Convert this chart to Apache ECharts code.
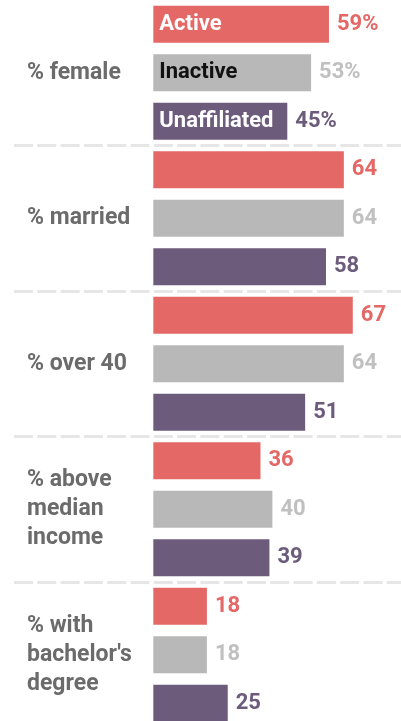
<!DOCTYPE html>
<html>
<head>
<meta charset="utf-8">
<script src="https://cdn.jsdelivr.net/npm/echarts@6/dist/echarts.min.js"></script>
<style>
  html, body { margin: 0; padding: 0; background: #fff; overflow: hidden; }
  #chart { width: 401px; height: 728px; }
</style>
</head>
<body>
<div id="chart"></div>
<script>
var categories = ['% female', '% married', '% over 40', '% above\nmedian\nincome', "% with\nbachelor's\ndegree"];
var groups = ['Active', 'Inactive', 'Unaffiliated'];
var active = [59, 64, 67, 36, 18];
var inactive = [53, 64, 64, 40, 18];
var unaffiliated = [45, 58, 51, 39, 25];

var barColors = ['#e36866', '#b8b8b8', '#6c5b7b'];
var valueColors = ['#e36866', '#c0c0c0', '#6c5b7b'];
var nameColors = ['#ffffff', '#111111', '#ffffff'];
var font = 'Roboto, "Liberation Sans", sans-serif';

// one slot per bar: three bars for each category
var slots = [];
categories.forEach(function (c) { slots.push('', c, ''); });

function spread(values, k) {
    var out = [];
    values.forEach(function (v) {
        for (var j = 0; j < 3; j++) out.push(j === k ? v : '-');
    });
    return out;
}

var all = [active, inactive, unaffiliated];
var series = all.map(function (vals, k) {
    return {
        name: groups[k],
        type: 'bar',
        barWidth: 37,
        barGap: '-100%',
        data: spread(vals, k),
        itemStyle: { color: barColors[k] },
        label: {
            show: true,
            position: 'right',
            distance: 8,
            fontFamily: font,
            fontWeight: 'bold',
            fontSize: 22,
            color: valueColors[k],
            formatter: function (p) { return p.dataIndex < 3 ? p.value + '%' : p.value; }
        }
    };
});

// names written inside the first three bars
var nameData = slots.map(function () { return '-'; });
groups.forEach(function (g, k) {
    nameData[k] = {
        value: all[k][0],
        label: { color: nameColors[k] }
    };
});
series.push({
    name: 'names',
    type: 'bar',
    barWidth: 37,
    barGap: '-100%',
    z: 3,
    silent: true,
    data: nameData,
    itemStyle: { color: 'rgba(0,0,0,0)' },
    label: {
        show: true,
        position: 'insideLeft',
        distance: 6,
        fontFamily: font,
        fontWeight: 'bold',
        fontSize: 22,
        formatter: function (p) { return groups[p.dataIndex]; }
    }
});

var chart = echarts.init(document.getElementById('chart'));
chart.setOption({
    animation: false,
    grid: { left: 14, right: 0, top: 0, bottom: 0.5 },
    xAxis: {
        type: 'value',
        min: -46.8,
        max: 83.2,
        show: false
    },
    yAxis: {
        type: 'category',
        inverse: true,
        data: slots,
        axisLine: { show: false },
        axisTick: { show: false },
        axisLabel: {
            inside: true,
            margin: 13,
            interval: 0,
            fontFamily: font,
            fontWeight: 'bold',
            fontSize: 23,
            lineHeight: 29,
            color: '#6b6b6b'
        },
        splitLine: {
            show: true,
            interval: function (i) { return i > 0 && i % 3 === 0; },
            lineStyle: { color: '#e6e6e6', width: 3, type: [19, 4.3] }
        }
    },
    series: series
});
</script>
</body>
</html>
